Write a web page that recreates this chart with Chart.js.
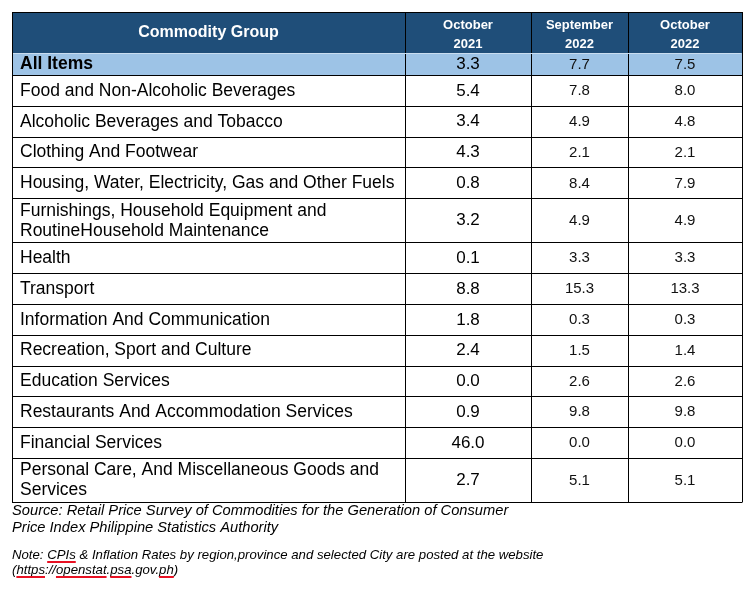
<!DOCTYPE html>
<html>
<head>
<meta charset="utf-8">
<title>CPI by Commodity Group</title>
<script src="https://cdn.jsdelivr.net/npm/chart.js@4/dist/chart.umd.min.js"></script>
<style>
  html, body { margin: 0; padding: 0; background: #fff; }
  #wrap { width: 754px; height: 589px; }
</style>
</head>
<body>
<div id="wrap"><canvas id="cpiTable" width="754" height="589"></canvas></div>
<script>
// Table data
var categories = [
  'All Items',
  'Food and Non-Alcoholic Beverages',
  'Alcoholic Beverages and Tobacco',
  'Clothing And Footwear',
  'Housing, Water, Electricity, Gas and Other Fuels',
  ['Furnishings, Household Equipment and', 'RoutineHousehold Maintenance'],
  'Health',
  'Transport',
  'Information And Communication',
  'Recreation, Sport and Culture',
  'Education Services',
  'Restaurants And Accommodation Services',
  'Financial Services',
  ['Personal Care, And Miscellaneous Goods and', 'Services']
];
var oct2021 = [3.3, 5.4, 3.4, 4.3, 0.8, 3.2, 0.1, 8.8, 1.8, 2.4, 0.0, 0.9, 46.0, 2.7];
var sep2022 = [7.7, 7.8, 4.9, 2.1, 8.4, 4.9, 3.3, 15.3, 0.3, 1.5, 2.6, 9.8, 0.0, 5.1];
var oct2022 = [7.5, 8.0, 4.8, 2.1, 7.9, 4.9, 3.3, 13.3, 0.3, 1.4, 2.6, 9.8, 0.0, 5.1];
var columnLabels = ['Commodity Group', ['October', '2021'], ['September', '2022'], ['October', '2022']];
var sourceLines = [
  'Source: Retail Price Survey of Commodities for the Generation of Consumer',
  'Price Index Philippine Statistics Authority'
];
var noteLines = [
  'Note: CPIs & Inflation Rates by region,province and selected City are posted at the website',
  '(https://openstat.psa.gov.ph)'
];
var flaggedWords = [['CPIs'], ['https', 'openstat', 'psa', 'ph']];

// Layout
var colWidths = [393, 126, 97, 114];
var headerHeight = 41;
var allItemsHeight = 22;
var rowHeight = 30.8;
var tallRowHeight = 44;
var FONT = '"Liberation Sans", Arial, sans-serif';

var rowHeights = [headerHeight].concat(categories.map(function (c, i) {
  if (i === 0) return allItemsHeight;
  return Array.isArray(c) ? tallRowHeight : rowHeight;
}));

function cumulative(arr) {
  var out = [0];
  arr.forEach(function (v) { out.push(out[out.length - 1] + v); });
  return out;
}
var colEdges = cumulative(colWidths);
var rowEdges = cumulative(rowHeights);

var tablePlugin = {
  id: 'tablePlugin',
  afterDraw: function (chart) {
    var ctx = chart.ctx;
    var xs = chart.scales.x, ys = chart.scales.y;
    var X = function (v) { return xs.getPixelForValue(v); };
    var Y = function (v) { return ys.getPixelForValue(v); };
    var left = X(0), right = X(colEdges[colEdges.length - 1]);

    ctx.save();
    // header and "All Items" backgrounds
    ctx.fillStyle = '#1F4E79';
    ctx.fillRect(left, Y(rowEdges[0]), right - left, Y(rowEdges[1]) - Y(rowEdges[0]));
    ctx.fillStyle = '#9DC3E6';
    ctx.fillRect(left, Y(rowEdges[1]), right - left, Y(rowEdges[2]) - Y(rowEdges[1]));

    // header text
    ctx.fillStyle = '#ffffff';
    ctx.textBaseline = 'middle';
    ctx.textAlign = 'center';
    var hMid = (Y(rowEdges[0]) + Y(rowEdges[1])) / 2;
    columnLabels.forEach(function (lab, c) {
      var cx = (X(colEdges[c]) + X(colEdges[c + 1])) / 2;
      if (Array.isArray(lab)) {
        ctx.font = 'bold 13px ' + FONT;
        ctx.fillText(lab[0], cx, hMid - 7.5);
        ctx.fillText(lab[1], cx, hMid + 11.5);
      } else {
        ctx.font = 'bold 16px ' + FONT;
        ctx.fillText(lab, cx, hMid);
      }
    });

    // body rows
    var series = [oct2021, sep2022, oct2022];
    categories.forEach(function (cat, i) {
      var top = Y(rowEdges[i + 1]), bot = Y(rowEdges[i + 2]);
      var mid = (top + bot) / 2 + 0.5;
      ctx.fillStyle = '#000000';
      ctx.textAlign = 'left';
      ctx.font = (i === 0 ? 'bold ' : '') + '17.5px ' + FONT;
      var tx = X(colEdges[0]) + 8;
      if (Array.isArray(cat)) {
        ctx.fillText(cat[0], tx, mid - 10);
        ctx.fillText(cat[1], tx, mid + 10);
      } else {
        ctx.fillText(cat, tx, mid);
      }
      ctx.textAlign = 'center';
      series.forEach(function (s, k) {
        var cx = (X(colEdges[k + 1]) + X(colEdges[k + 2])) / 2;
        ctx.font = (k === 0 ? '17px ' : '15px ') + FONT;
        ctx.fillStyle = k === 0 ? '#000000' : '#111111';
        ctx.fillText(s[i].toFixed(1), cx, mid);
      });
    });

    // grid lines
    ctx.strokeStyle = '#000000';
    ctx.lineWidth = 1;
    ctx.beginPath();
    rowEdges.forEach(function (r, i) {
      if (i === 1) return;
      var y = Math.round(Y(r)) + 0.5;
      ctx.moveTo(left, y);
      ctx.lineTo(right, y);
    });
    colEdges.forEach(function (c) {
      var x = Math.round(X(c)) + 0.5;
      ctx.moveTo(x, Y(rowEdges[0]));
      ctx.lineTo(x, Math.round(Y(rowEdges[rowEdges.length - 1])) + 0.5);
    });
    ctx.stroke();
    // thin light line under the header
    ctx.strokeStyle = '#C9DDF0';
    ctx.beginPath();
    var hy = Math.round(Y(rowEdges[1])) + 0.5;
    ctx.moveTo(left + 1, hy);
    ctx.lineTo(right - 1, hy);
    ctx.stroke();

    // footnotes
    var base = chart.chartArea.bottom;
    ctx.fillStyle = '#000000';
    ctx.textAlign = 'left';
    ctx.textBaseline = 'middle';
    ctx.font = 'italic 14.7px ' + FONT;
    ctx.fillText(sourceLines[0], left, base + 9);
    ctx.fillText(sourceLines[1], left, base + 26);
    ctx.font = 'italic 13.2px ' + FONT;
    var noteY = [base + 53, base + 68];
    noteLines.forEach(function (line, n) {
      ctx.fillStyle = '#000000';
      ctx.fillText(line, left, noteY[n]);
      // red spell-check underlines
      ctx.strokeStyle = '#E81123';
      ctx.lineWidth = 2;
      var from = 0;
      flaggedWords[n].forEach(function (w) {
        var idx = line.indexOf(w, from);
        from = idx + w.length;
        var x0 = left + ctx.measureText(line.slice(0, idx)).width;
        var x1 = x0 + ctx.measureText(w).width;
        ctx.beginPath();
        ctx.moveTo(x0, noteY[n] + 7);
        ctx.lineTo(x1, noteY[n] + 7);
        ctx.stroke();
      });
    });
    ctx.restore();
  }
};

var ctxEl = document.getElementById('cpiTable');
if (ctxEl) {
  var tableChart = new Chart(ctxEl, {
    type: 'scatter',
    data: { datasets: [] },
    options: {
      responsive: false,
      animation: false,
      devicePixelRatio: 1,
      layout: { padding: { left: 12, right: 12, top: 12, bottom: 87 } },
      plugins: { legend: { display: false }, tooltip: { enabled: false } },
      scales: {
        x: { type: 'linear', display: false, min: 0, max: colEdges[colEdges.length - 1] },
        y: { type: 'linear', display: false, min: 0, max: rowEdges[rowEdges.length - 1], reverse: true }
      }
    },
    plugins: [tablePlugin]
  });
} else {
  console.error("Canvas element with id 'cpiTable' not found.");
}
</script>
</body>
</html>
